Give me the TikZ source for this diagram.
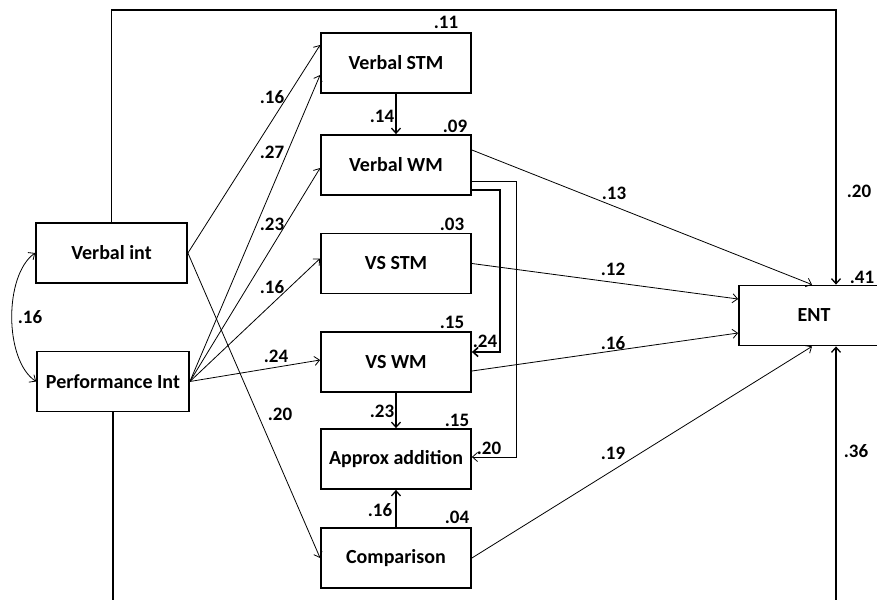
\documentclass[tikz,border=0pt]{standalone}
\usepackage{fontspec}
\setmainfont{Carlito}
\usetikzlibrary{arrows.meta}

\begin{document}
\begin{tikzpicture}[x=1pt,y=-1pt,
  >={Straight Barb[length=5pt,width=9pt]},
  var/.style={draw,line width=1.8pt,minimum width=150pt,minimum height=60pt,inner sep=0pt,
    font=\fontsize{20}{24}\selectfont\bfseries},
  num/.style={inner sep=0pt,font=\fontsize{19}{22}\selectfont\bfseries},
  path/.style={->,line width=0.8pt}]
\useasboundingbox (0,0) rectangle (877,599);
% boxes
\node[var] (vstm) at (396,63) {Verbal STM};
\node[var] (vwm) at (396,165) {Verbal WM};
\node[var] (vsstm) at (396,263.5) {VS STM};
\node[var] (vswm) at (396,362) {VS WM};
\node[var] (approx) at (396,459) {Approx addition};
\node[var] (comp) at (396,558) {Comparison};
\node[var,minimum width=151pt] (vint) at (111.5,253) {Verbal int};
\node[var,minimum width=152pt] (pint) at (113,381.5) {Performance Int};
\node[var] (ent) at (814,315.5) {ENT};
\coordinate (topl) at (111.5,10);
\coordinate (botl) at (113,620);
% paths from the intelligence boxes
\draw[path](vint.east)--([yshift=18pt]vstm.west);
\draw[path](vint.east)--(comp.west);
\draw[path](pint.east)--([yshift=-12pt]vstm.west);
\draw[path](pint.east)--([yshift=-3pt]vwm.west);
\draw[path](pint.east)--([yshift=5pt]vsstm.west);
\draw[path](pint.east)--([yshift=2pt]vswm.west);
\draw[<->,line width=0.8pt](vint.west) .. controls (4,275) and (4,360) .. (pint.west);
% memory paths
\draw[->,line width=1.3pt](vstm.south)--(vwm.north);
\draw[->,line width=1.3pt](vswm.south)--(approx.north);
\draw[->,line width=1.3pt](comp.north)--(approx.south);
\draw[->,line width=1.6pt]([yshift=-25pt]vwm.east)-|(500,352)--([yshift=10pt]vswm.east);
\draw[->,line width=0.8pt]([yshift=-16pt]vwm.east)-|(516,457)--([yshift=2pt]approx.east);
% paths to ENT
\draw[path]([yshift=15pt]vwm.east)--([xshift=-2pt]ent.north);
\draw[path](vsstm.east)--([yshift=16.5pt]ent.west);
\draw[path]([yshift=-9pt]vswm.east)--([yshift=-17.5pt]ent.west);
\draw[path](comp.east)--([xshift=-2pt]ent.south);
\draw[->,line width=1.3pt](vint.north)--(topl)-|([xshift=22pt]ent.north);
\draw[->,line width=1.3pt](pint.south)--(botl)-|([xshift=22pt]ent.south);
% coefficients
\foreach \x/\y/\t [count=\i] in {446/22/.11,455/126/.09,452/224/.03,452/322/.15,457/420/.15,457/517/.04,
  272/97/.16,272/152/.27,272/224/.23,272/287/.16,276/356/.24,280/414/.20,30/317/.16,
  382/116/.14,382/411/.23,380/510/.16,485/341/.24,489/448/.20,
  614/193/.13,613/269/.12,613/343/.16,613/453/.19,859/191/.20,862/277/.41,856/451/.36}
  \node[num] (c\i) at (\x,\y) {\t};
\end{tikzpicture}
\end{document}
